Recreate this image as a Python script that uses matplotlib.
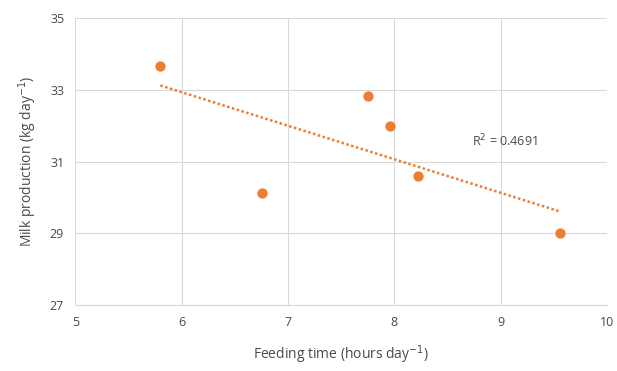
import matplotlib.pyplot as plt
import numpy as np

feeding_time = [5.80, 6.76, 7.75, 7.96, 8.22, 9.56]
milk_prod = [33.67, 30.11, 32.83, 32.00, 30.60, 29.00]
x_ticks = [5, 6, 7, 8, 9, 10]
y_ticks = [27, 29, 31, 33, 35]
r2_label = "R$^2$ = 0.4691"

plt.rcParams['font.family'] = ['Open Sans', 'DejaVu Sans']
text_col = '#4a4a4a'
orange = '#ED7D31'

fig = plt.figure(figsize=(6.17, 3.71), dpi=100)
ax = fig.add_axes([0.122, 0.178, 0.862, 0.773])

ax.scatter(feeding_time, milk_prod, s=55, color=orange, zorder=3, linewidths=0)

# linear trendline
x = np.array(feeding_time)
slope, intercept = np.polyfit(x, milk_prod, 1)
xs = np.array([x.min(), x.max()])
ax.plot(xs, slope * xs + intercept, color=orange, linestyle=(0, (1, 1)), lw=1.8, zorder=2)

ax.text(8.73, 31.58, r2_label, fontsize=9, color=text_col, va='center')

ax.set_xlim(5, 10)
ax.set_ylim(27, 35)
ax.set_xticks(x_ticks)
ax.set_yticks(y_ticks)
ax.grid(True, color='#D9D9D9', lw=0.8)
ax.set_axisbelow(True)
for s in ['top', 'right', 'left']:
    ax.spines[s].set_visible(False)
ax.spines['bottom'].set_color('#D9D9D9')
ax.tick_params(length=0, labelsize=9, colors=text_col, pad=8)

ax.set_xlabel("Feeding time (hours day$^{-1}$)", fontsize=10, color=text_col, labelpad=10)
ax.set_ylabel("Milk production (kg day$^{-1}$)", fontsize=10, color=text_col, labelpad=8)

fig.savefig("out.png", dpi=100)
